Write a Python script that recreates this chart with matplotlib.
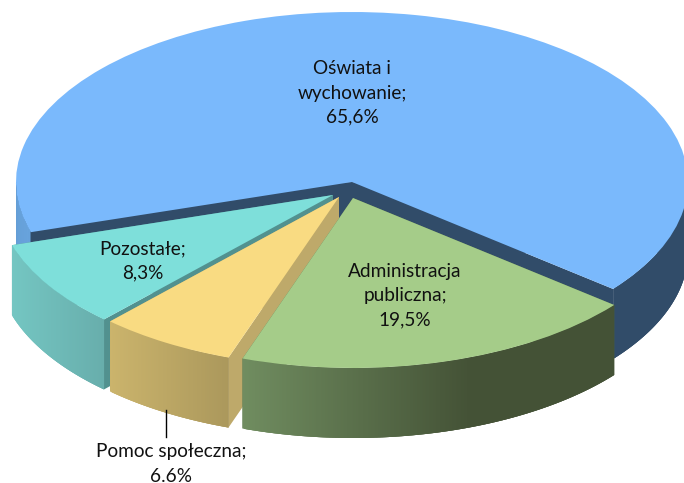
# -*- coding: utf-8 -*-
import numpy as np
import matplotlib
matplotlib.use('Agg')
import matplotlib.pyplot as plt
from matplotlib.collections import PolyCollection

# Dane
etykiety = ['Oświata i\nwychowanie;\n65,6%', 'Pozostałe;\n8,3%',
            'Pomoc społeczna;\n6.6%', 'Administracja\npubliczna;\n19,5%']
udzialy = [65.6, 8.3, 6.6, 19.5]

# Wyglad
kolory_gora = ['#7AB9FC', '#7EDFDA', '#F9DB82', '#A5CC89']
kolory_ciecia = ['#314C69', '#52918F', '#BEA96A', '#5F7A50']
# gradient sciany bocznej: (x w pikselach, kolor RGB)
gradient_x = [[16, 30, 31, 684], [12, 104], [110, 229], [242, 470]]
gradient_rgb = [
    [(104, 163, 220), (104, 163, 220), (49, 76, 105), (49, 76, 105)],
    [(116, 198, 194), (104, 174, 172)],
    [(203, 180, 108), (171, 152, 92)],
    [(112, 141, 96), (68, 82, 54)],
]
# przesuniecie kawalkow w pikselach
przes_x = [0, -19, -13, 1]
przes_y = [0, 13, 15, 16]
kat_start = -39
srodek_px = (352, 182)
a_px, b_px = 336, 170
grubosc_px = 70
pozycje_opisow = [(352, 93), (143, 261), (171, 464), (405, 296)]


def dx(x):
    return (x - srodek_px[0]) / a_px


def dy(y):
    return (srodek_px[1] - y) / b_px


def kolor_sciany(i, x_px):
    rgb = [np.interp(x_px, gradient_x[i], [c[k] for c in gradient_rgb[i]]) for k in range(3)]
    return np.array(rgb) / 255


fig = plt.figure(figsize=(6.84, 4.83), dpi=100)
ax = fig.add_axes([0, 0, 1, 1])

kliny, _ = ax.pie(udzialy, startangle=kat_start, colors=kolory_gora,
                  wedgeprops={'linewidth': 0})
ax.set_aspect('auto')
ax.set_xlim(dx(0), dx(684))
ax.set_ylim(dy(483), dy(0))

h = grubosc_px / b_px
for i, klin in enumerate(kliny):
    cx = przes_x[i] / a_px
    cy = -przes_y[i] / b_px
    klin.set_center((cx, cy))
    klin.set_zorder(10 * i + 3)

    # sciany przekroju
    for kat in (klin.theta1, klin.theta2):
        xk = cx + np.cos(np.radians(kat))
        yk = cy + np.sin(np.radians(kat))
        ax.fill([cx, xk, xk, cx], [cy, yk, yk - h, cy - h], color=kolory_ciecia[i],
                lw=0, zorder=10 * i + 1)

    # sciana boczna, tylko dolna polowa elipsy; paski zachodza na siebie zeby nie bylo szwow
    katy = np.radians(np.linspace(klin.theta1, klin.theta2, int((klin.theta2 - klin.theta1) * 4) + 1))
    katy = katy[np.sin(katy) <= 0.0]
    for j in range(len(katy) - 1):
        luk = katy[j:j + 4]
        xl = cx + np.cos(luk)
        yl = cy + np.sin(luk)
        pasek = np.column_stack([np.r_[xl, xl[::-1]], np.r_[yl, yl[::-1] - h]])
        xsr = (np.cos(katy[j]) + np.cos(katy[j + 1])) / 2 + cx
        kolor = kolor_sciany(i, xsr * a_px + srodek_px[0])
        ax.add_collection(PolyCollection([pasek], facecolors=[kolor], linewidths=0,
                                         zorder=10 * i + 2))

# Opisy
for tekst, (xt, yt) in zip(etykiety, pozycje_opisow):
    ax.text(dx(xt), dy(yt), tekst, ha='center', va='center', fontsize=13.7,
            family='Lato', color='#111111', linespacing=1.5, zorder=100)

# Linia odniesienia do opisu "Pomoc spoleczna"
kat_sr = np.radians((kliny[2].theta1 + kliny[2].theta2) / 2)
x_lin = przes_x[2] + a_px * np.cos(kat_sr) + srodek_px[0]
ax.plot([dx(x_lin), dx(x_lin)], [dy(410), dy(437)], color='black', lw=1, zorder=99)

fig.savefig('out.png', dpi=100)
